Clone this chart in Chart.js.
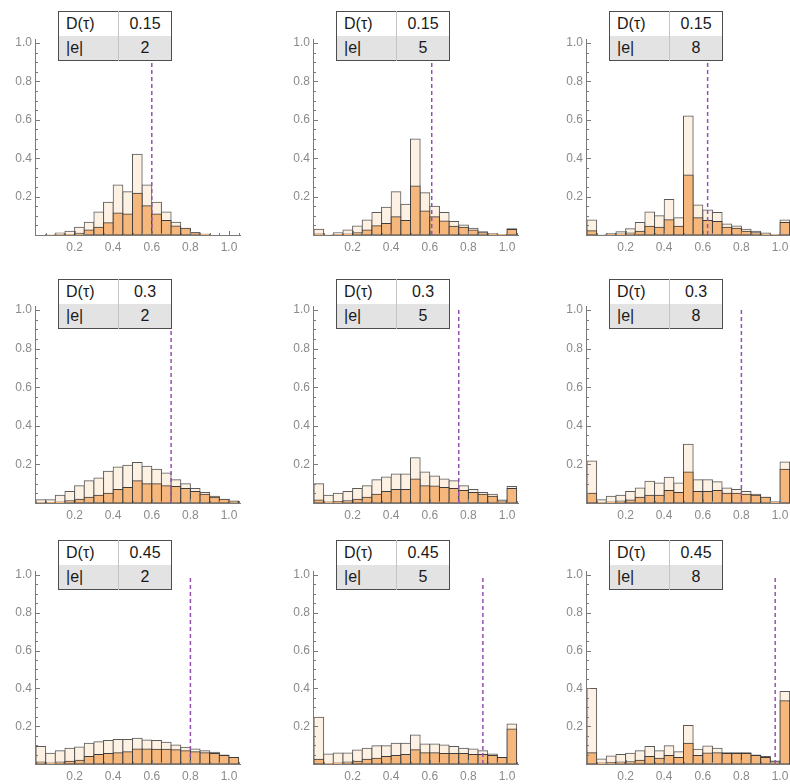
<!DOCTYPE html>
<html>
<head>
<meta charset="utf-8">
<script src="https://cdn.jsdelivr.net/npm/chart.js@4.4.1/dist/chart.umd.min.js"></script>
<style>
  body { margin: 0; background: #fff; }
  #grid { position: relative; width: 790px; height: 784px; overflow: hidden; }
  #grid canvas { position: absolute; }
  table.key {
    position: absolute; border-collapse: collapse; table-layout: fixed;
    width: 114px; border: 1.5px solid #4d4d4d;
    font: 16px "Liberation Sans", Arial, sans-serif; color: #1a1a1a;
  }
  table.key td { height: 24px; padding: 0; }
  table.key td:first-child { width: 52px; padding-left: 7px; border-right: 1px solid #c4c4c4; }
  table.key td:last-child { text-align: center; }
  table.key tr:first-child { background: #fff; }
  table.key tr:last-child { background: #e3e3e3; }
</style>
</head>
<body>
<div id="grid"></div>
<script>
// bins: left edges, width 0.05
const binLeft = [0, 0.05, 0.1, 0.15, 0.2, 0.25, 0.3, 0.35, 0.4, 0.45, 0.5,
                 0.55, 0.6, 0.65, 0.7, 0.75, 0.8, 0.85, 0.9, 0.95, 1.0];
const binWidth = 0.05;

const dTau = [0.15, 0.3, 0.45];   // one per row
const edges = [2, 5, 8];          // one per column
const xTicks = [0.2, 0.4, 0.6, 0.8, 1.0];
const yTicks = [0.2, 0.4, 0.6, 0.8, 1.0];

// dashed marker per panel, row by row
const cutoff = [0.6, 0.61, 0.625, 0.7, 0.75, 0.8, 0.8, 0.875, 0.975];

// light bars (all) and orange bars (subset), per panel
const all_a = [0, 0.003, 0.01, 0.02, 0.04, 0.066, 0.12, 0.17, 0.26, 0.225, 0.42, 0.26, 0.17, 0.12, 0.066, 0.03, 0.012, 0.004, 0, 0, 0];
const sub_a = [0, 0, 0.002, 0.003, 0.009, 0.026, 0.04, 0.064, 0.115, 0.11, 0.217, 0.152, 0.11, 0.075, 0.047, 0.035, 0.012, 0.004, 0, 0, 0];
const all_b = [0.03, 0.003, 0.012, 0.026, 0.047, 0.078, 0.117, 0.145, 0.225, 0.16, 0.5, 0.22, 0.15, 0.117, 0.07, 0.052, 0.035, 0.017, 0.007, 0.003, 0.033];
const sub_b = [0.005, 0, 0.002, 0.005, 0.012, 0.026, 0.048, 0.06, 0.095, 0.075, 0.255, 0.125, 0.095, 0.073, 0.045, 0.04, 0.026, 0.012, 0.005, 0.002, 0.028];
const all_c = [0.078, 0.003, 0.008, 0.017, 0.033, 0.065, 0.12, 0.1, 0.185, 0.09, 0.62, 0.156, 0.13, 0.117, 0.057, 0.047, 0.03, 0.02, 0.01, 0.003, 0.078];
const sub_c = [0.022, 0, 0.002, 0.005, 0.01, 0.02, 0.045, 0.04, 0.08, 0.045, 0.313, 0.09, 0.075, 0.07, 0.04, 0.035, 0.02, 0.012, 0.005, 0.002, 0.065];
const all_d = [0.017, 0.017, 0.04, 0.06, 0.09, 0.115, 0.13, 0.165, 0.186, 0.195, 0.21, 0.19, 0.175, 0.155, 0.12, 0.1, 0.075, 0.055, 0.035, 0.017, 0.008];
const sub_d = [0.002, 0.003, 0.005, 0.012, 0.02, 0.03, 0.04, 0.05, 0.07, 0.08, 0.115, 0.1, 0.1, 0.09, 0.085, 0.075, 0.06, 0.045, 0.03, 0.02, 0.01];
const all_e = [0.1, 0.04, 0.05, 0.06, 0.075, 0.09, 0.12, 0.135, 0.15, 0.15, 0.235, 0.16, 0.14, 0.125, 0.115, 0.09, 0.07, 0.055, 0.045, 0.015, 0.085];
const sub_e = [0.015, 0.005, 0.008, 0.012, 0.02, 0.03, 0.045, 0.06, 0.07, 0.07, 0.125, 0.09, 0.088, 0.08, 0.075, 0.065, 0.055, 0.045, 0.035, 0.01, 0.075];
const all_f = [0.217, 0.017, 0.035, 0.04, 0.06, 0.078, 0.113, 0.104, 0.134, 0.104, 0.304, 0.12, 0.12, 0.11, 0.078, 0.07, 0.06, 0.045, 0.03, 0.005, 0.212];
const sub_f = [0.05, 0.003, 0.005, 0.01, 0.015, 0.03, 0.04, 0.04, 0.065, 0.055, 0.16, 0.06, 0.06, 0.065, 0.05, 0.05, 0.045, 0.04, 0.03, 0.005, 0.175];
const all_g = [0.092, 0.057, 0.07, 0.083, 0.09, 0.11, 0.118, 0.124, 0.13, 0.13, 0.136, 0.127, 0.124, 0.115, 0.1, 0.088, 0.08, 0.07, 0.062, 0.048, 0.035];
const sub_g = [0.01, 0.005, 0.01, 0.015, 0.02, 0.04, 0.05, 0.055, 0.06, 0.065, 0.08, 0.08, 0.078, 0.078, 0.075, 0.07, 0.065, 0.06, 0.055, 0.045, 0.035];
const all_h = [0.248, 0.053, 0.058, 0.058, 0.074, 0.083, 0.097, 0.097, 0.11, 0.11, 0.154, 0.106, 0.106, 0.1, 0.092, 0.083, 0.08, 0.07, 0.053, 0.035, 0.212];
const sub_h = [0.025, 0.003, 0.005, 0.01, 0.015, 0.025, 0.03, 0.04, 0.045, 0.05, 0.075, 0.06, 0.06, 0.055, 0.055, 0.055, 0.05, 0.05, 0.045, 0.035, 0.185];
const all_i = [0.4, 0.027, 0.042, 0.05, 0.057, 0.07, 0.092, 0.07, 0.097, 0.065, 0.204, 0.078, 0.095, 0.083, 0.06, 0.06, 0.06, 0.048, 0.04, 0.016, 0.384];
const sub_i = [0.06, 0.005, 0.008, 0.01, 0.012, 0.02, 0.04, 0.03, 0.045, 0.035, 0.11, 0.045, 0.058, 0.06, 0.055, 0.055, 0.055, 0.045, 0.035, 0.012, 0.335];

const allSets = [all_a, all_b, all_c, all_d, all_e, all_f, all_g, all_h, all_i];
const subSets = [sub_a, sub_b, sub_c, sub_d, sub_e, sub_f, sub_g, sub_h, sub_i];

// page layout (pixels)
const colX = [36, 314, 587];       // x=0 of each column
const rowY = [235, 503, 764];      // y=0 of each row
const kx = 193;                    // px per unit, x
const ky = [192, 193, 189];        // px per unit, y, per row
const X_MAX = 1.06, Y_MAX = 1.02;
const Y_W = 34, X_H = 22;
const W = 257, H = 239;

const FONT = '"Liberation Sans", Arial, sans-serif';
const AXIS = '#7a7a7a';

// axis lines plus inward ticks (minor every 0.05), drawn as filled rects
const innerTicks = {
  id: 'innerTicks',
  afterDraw(chart) {
    const { ctx, scales } = chart;
    const sx = scales.x, sy = scales.y;
    const x0 = Math.round(sx.getPixelForValue(0));
    const y0 = Math.round(sy.getPixelForValue(0));
    const yTop = Math.round(sy.getPixelForValue(Y_MAX));
    const xEnd = Math.round(sx.getPixelForValue(X_MAX));
    ctx.save();
    ctx.fillStyle = AXIS;
    ctx.fillRect(x0 - 1, yTop, 1, y0 - yTop + 1);
    ctx.fillRect(x0 - 1, y0, xEnd - x0 + 1, 1);
    for (let i = 1; i <= 21; i++) {
      const px = Math.round(sx.getPixelForValue(i * 0.05));
      const len = i % 4 === 0 ? 4 : 2;
      ctx.fillRect(px, y0 - len, 1, len);
    }
    for (let i = 1; i <= 20; i++) {
      const py = Math.round(sy.getPixelForValue(i * 0.05));
      const len = i % 4 === 0 ? 4 : 2;
      ctx.fillRect(x0, py, len, 1);
    }
    ctx.restore();
  }
};

function barSet(values, fill, edge, order) {
  return {
    data: values.map((v, i) => ({ x: binLeft[i] + binWidth / 2, y: v })),
    backgroundColor: fill,
    borderColor: edge,
    borderWidth: 1,
    borderSkipped: false,
    inflateAmount: 0.5,
    grouped: false,
    barPercentage: 1,
    categoryPercentage: 1,
    order
  };
}

const grid = document.getElementById('grid');

for (let r = 0; r < 3; r++) {
  for (let c = 0; c < 3; c++) {
    const p = r * 3 + c;
    const ox = colX[c], oy = rowY[r];

    const cv = document.createElement('canvas');
    cv.width = W; cv.height = H;
    cv.style.width = W + 'px'; cv.style.height = H + 'px';
    cv.style.left = (ox - 40) + 'px';
    cv.style.top = (oy - 215) + 'px';
    grid.appendChild(cv);

    new Chart(cv, {
      type: 'bar',
      data: {
        datasets: [
          {
            type: 'line',
            data: [{ x: cutoff[p], y: 0 }, { x: cutoff[p], y: 1 }],
            borderColor: '#9450b0',
            borderWidth: 1.5,
            borderDash: [4, 3],
            pointRadius: 0,
            order: 0
          },
          barSet(subSets[p], '#f5b77c', '#3c3c3c', 1),
          barSet(allSets[p], '#fdf1e4', '#5a5a5a', 2)
        ]
      },
      options: {
        responsive: false,
        animation: false,
        devicePixelRatio: 1,
        layout: {
          padding: {
            left: 40 - Y_W,
            right: W - 40 - X_MAX * kx,
            top: 215 - Y_MAX * ky[r],
            bottom: 24 - X_H
          }
        },
        plugins: { legend: { display: false }, tooltip: { enabled: false } },
        scales: {
          x: {
            type: 'linear', min: 0, max: X_MAX, offset: false,
            grid: { display: false, drawTicks: false },
            border: { display: false },
            ticks: { color: '#8a8a8a', padding: 5, font: { family: FONT, size: 12 }, callback: v => v.toFixed(1) },
            afterBuildTicks: s => { s.ticks = xTicks.map(value => ({ value })); },
            afterFit: s => { s.height = X_H; s.paddingLeft = 0; s.paddingRight = 0; }
          },
          y: {
            type: 'linear', min: 0, max: Y_MAX,
            grid: { display: false, drawTicks: false },
            border: { display: false },
            ticks: { color: '#8a8a8a', padding: 4, font: { family: FONT, size: 12 }, callback: v => v.toFixed(1) },
            afterBuildTicks: s => { s.ticks = yTicks.map(value => ({ value })); },
            afterFit: s => { s.width = Y_W; s.paddingTop = 0; s.paddingBottom = 0; }
          }
        }
      },
      plugins: [innerTicks]
    });

    const tb = document.createElement('table');
    tb.className = 'key';
    tb.style.left = (ox + 22) + 'px';
    tb.style.top = (oy - 224) + 'px';
    tb.innerHTML = '<tr><td>D(\u03c4)</td><td>' + dTau[r] + '</td></tr>' +
                   '<tr><td>|e|</td><td>' + edges[c] + '</td></tr>';
    grid.appendChild(tb);
  }
}
</script>
</body>
</html>
